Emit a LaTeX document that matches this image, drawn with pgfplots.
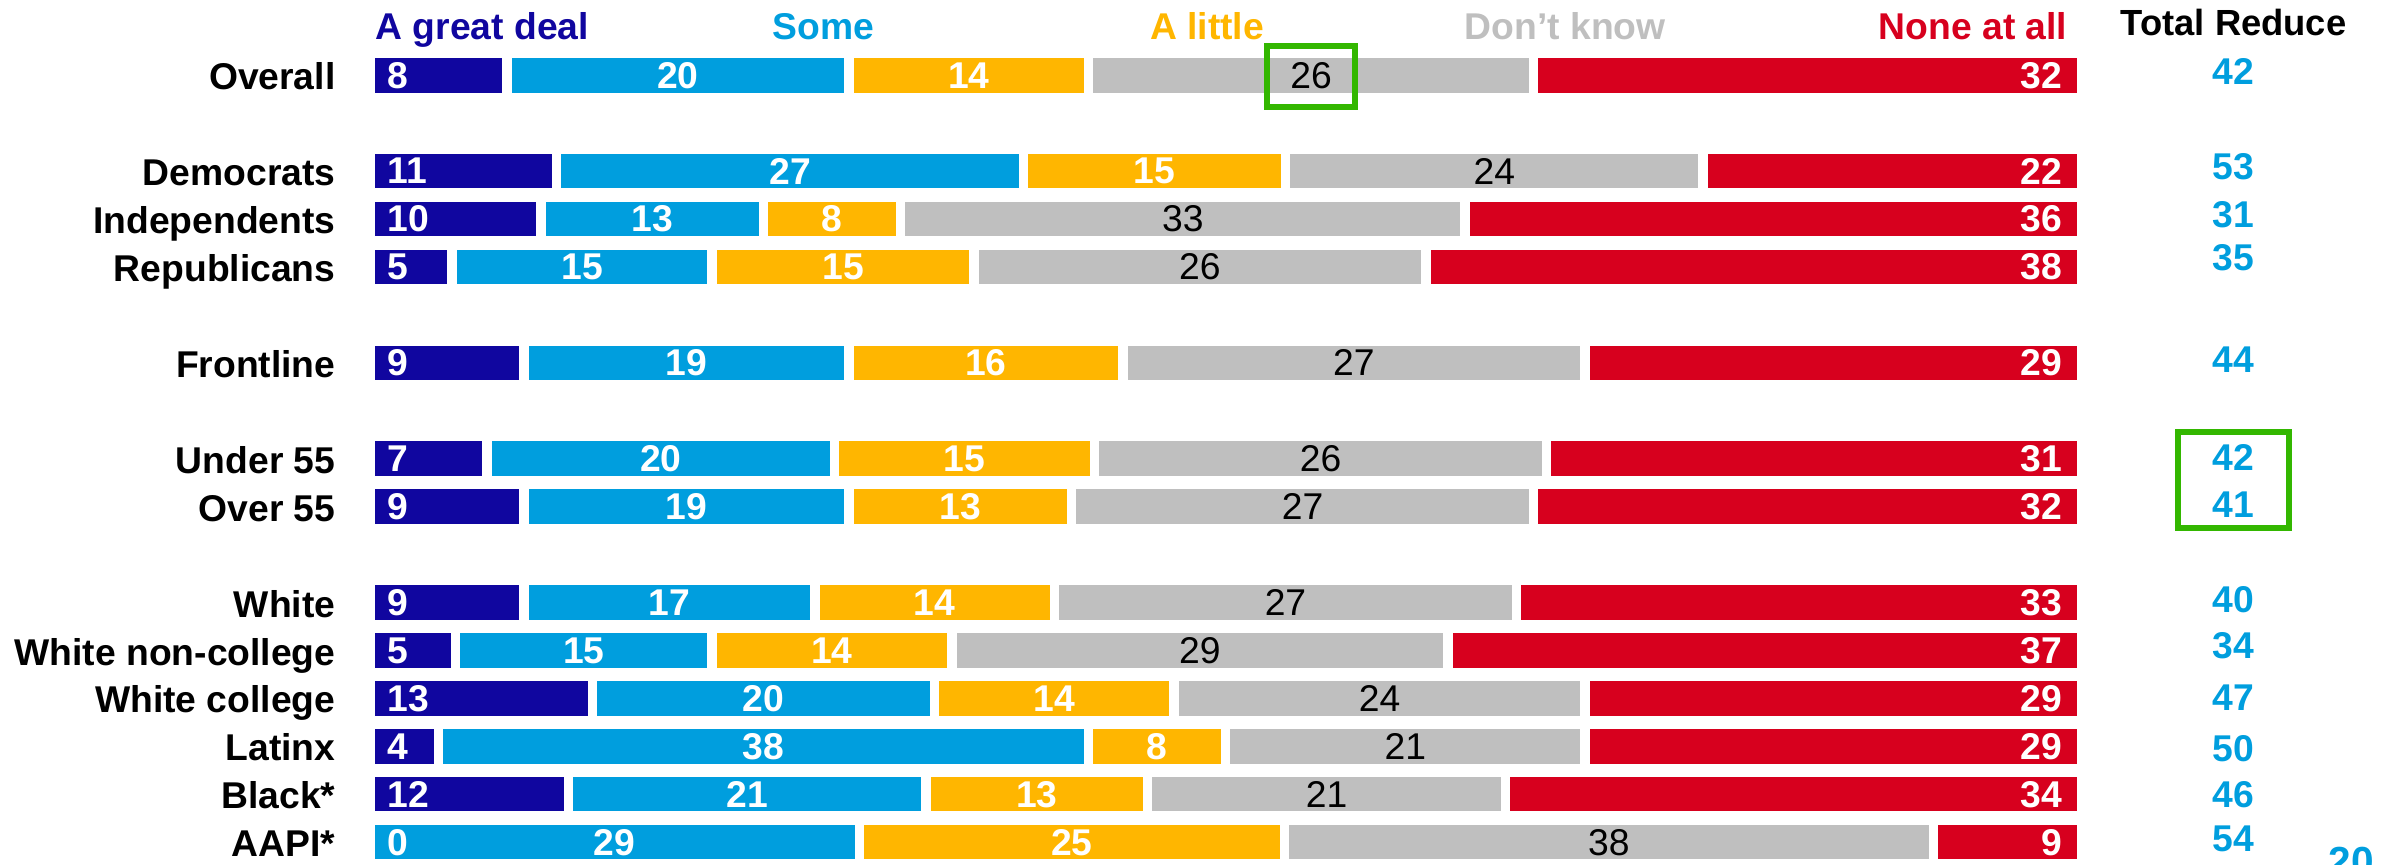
\documentclass[border=0pt]{standalone}
\usepackage{pgfplots}
\pgfplotsset{compat=1.18}
\usepackage{pgfplotstable}
\usepackage{fontspec}
\setmainfont{Liberation Sans}
\definecolor{cdark}{RGB}{16,6,159}
\definecolor{clight}{RGB}{0,158,222}
\definecolor{corange}{RGB}{255,182,0}
\definecolor{cgray}{RGB}{191,191,191}
\definecolor{cred}{RGB}{215,0,30}
\definecolor{cgreen}{RGB}{51,183,0}

% a..e : bar lengths (share of 100), la..le : printed labels, tot : Total Reduce
\pgfplotstableread[col sep=comma]{
row,name,a,b,c,d,e,la,lb,lc,ld,le,tot,ty
0,Overall,8,20,14,26,32,8,20,14,26,32,42,-0.075
2,Democrats,10.9,27.3,15.3,24.4,22.1,11,27,15,24,22,53,1.907
3,Independents,10,13,8,33,36,10,13,8,33,36,31,2.90
4,Republicans,4.8,15.2,15.3,26.4,38.3,5,15,15,26,38,35,3.805
6,Frontline,9,19,16,27,29,9,19,16,27,29,44,5.93
8,Under 55,6.85,20.3,15.2,26.4,31.25,7,20,15,26,31,42,7.974
9,Over 55,9,19,13,27,32,9,19,13,27,32,41,8.95
11,White,9,17,14,27,33,9,17,14,27,33,40,10.93
12,White non-college,5,15,14,29,37,5,15,14,29,37,34,11.90
13,White college,13,20,14,24,29,13,20,14,24,29,47,12.98
14,Latinx,4,38,8,21,29,4,38,8,21,29,50,14.04
15,Black*,11.6,20.9,12.95,20.9,33.65,12,21,13,21,34,46,15.0
16,AAPI*,0,28.6,24.85,37.9,8.65,0,29,25,38,9,54,15.93
}\data

\newcommand{\bigf}{\fontsize{12.3}{14}\selectfont}
\pgfplotsset{
  base/.style={
    width=786.06pt, height=285.45pt, scale only axis,
    xmin=-21.61, xmax=117.57, ymin=-1.571, ymax=16.476,
    y dir=reverse, hide axis, clip=false,
  },
  lab/.style={draw=none, mark=none,
    nodes near coords={\pgfplotspointmeta}, point meta=explicit symbolic,
    every node near coord/.append style={inner sep=0pt, font=\bigf\bfseries, text=white, anchor=center}},
  seg/.style={draw=white, line width=3.14pt, fill=#1},
}
\begin{document}
\begin{tikzpicture}
\begin{axis}[base, name=ax, xbar stacked, bar width=0.918]
\addplot[seg=cdark] table[x=a,y=row]{\data};
\addplot[seg=clight] table[x=b,y=row]{\data};
\addplot[seg=corange] table[x=c,y=row]{\data};
\addplot[seg=cgray] table[x=d,y=row]{\data};
\addplot[seg=cred] table[x=e,y=row]{\data};
\end{axis}
\begin{axis}[base]
% row names
\addplot[lab, every node near coord/.append style={anchor=base east, text=black, yshift=-4.8pt}]
  table[x expr=-1.975, y=row, meta=name]{\data};
% segment labels
\addplot[lab, every node near coord/.append style={anchor=west}]
  table[x expr=1.0, y=row, meta=la]{\data};
\addplot[lab] table[x expr=\thisrow{a}+\thisrow{b}/2, y=row, meta=lb]{\data};
\addplot[lab] table[x expr=\thisrow{a}+\thisrow{b}+\thisrow{c}/2, y=row, meta=lc]{\data};
\addplot[lab, every node near coord/.append style={font=\bigf, text=black}]
  table[x expr=\thisrow{a}+\thisrow{b}+\thisrow{c}+\thisrow{d}/2, y=row, meta=ld]{\data};
\addplot[lab, every node near coord/.append style={anchor=east}]
  table[x expr=98.92, y=row, meta=le]{\data};
% totals
\addplot[lab, every node near coord/.append style={text=clight}]
  table[x expr=108.87, y=ty, meta=tot]{\data};
% legend / header
\node[anchor=base west, inner sep=0pt, font=\bigf\bfseries, text=cdark] at (axis cs:0.30,-0.737) {A great deal};
\node[anchor=base west, inner sep=0pt, font=\bigf\bfseries, text=clight] at (axis cs:23.50,-0.737) {Some};
\node[anchor=base west, inner sep=0pt, font=\bigf\bfseries, text=corange] at (axis cs:45.56,-0.737) {A little};
\node[anchor=base west, inner sep=0pt, font=\bigf\bfseries, text=cgray] at (axis cs:63.95,-0.737) {Don’t know};
\node[anchor=base east, inner sep=0pt, font=\bigf\bfseries, text=cred] at (axis cs:99.22,-0.737) {None at all};
\node[anchor=base, inner sep=0pt, font=\fontsize{12}{14}\selectfont\bfseries, text=black] at (axis cs:108.9,-0.820) {Total Reduce};
% highlight boxes
\draw[cgreen, line width=1.98pt] (axis cs:52.42,-0.611) rectangle (axis cs:57.56,0.661);
\draw[cgreen, line width=1.98pt] (axis cs:105.65,7.442) rectangle (axis cs:112.14,9.439);
% page number (cut at the bottom edge)
\node[anchor=base west, inner sep=0pt, font=\fontsize{13.4}{15}\selectfont\bfseries, text=clight] at (axis cs:114.41,16.70) {20};
\end{axis}
\pgfresetboundingbox
\useasboundingbox (ax.south west) rectangle (ax.north east);
\end{tikzpicture}
\end{document}
